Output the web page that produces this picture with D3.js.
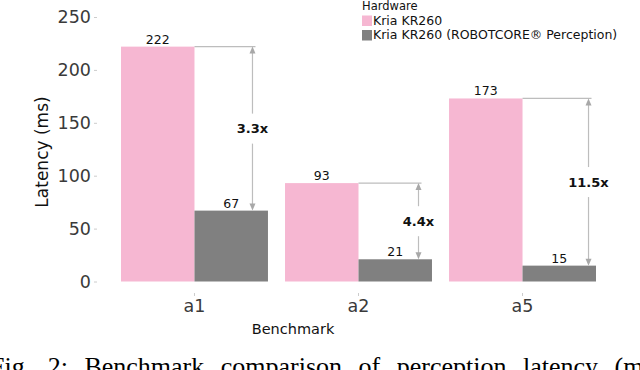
<!DOCTYPE html>
<html>
<head>
<meta charset="utf-8">
<script src="https://cdn.jsdelivr.net/npm/d3@7"></script>
<style>
  body { margin: 0; background: #fff; }
  svg { display: block; font-family: "DejaVu Sans", sans-serif; }
</style>
</head>
<body>
<div id="chart-area"></div>
<script>
// Data
const benchmarks = ["a1", "a2", "a5"];
const hardware = ["Kria KR260", "Kria KR260 (ROBOTCORE\u00AE Perception)"];
const kriaLatency = [222, 93, 173];
const robotcoreLatency = [67, 21, 15];
const speedups = ["3.3x", "4.4x", "11.5x"];
const yTicks = [0, 50, 100, 150, 200, 250];

const colors = ["#f6b7d2", "#808080"];
const width = 640;
const height = 370;

// Build SVG
const svg = d3.select("#chart-area")
  .append("svg")
    .attr("width", width)
    .attr("height", height);

// Scales
const x0 = d3.scaleBand()
  .domain(benchmarks)
  .range([121, 596])
  .paddingInner(0.104)
  .paddingOuter(0);

const x1 = d3.scaleBand()
  .domain([0, 1])
  .range([0, x0.bandwidth()]);

const y = d3.scaleLinear()
  .domain([0, 250])
  .range([281.5, 17]);

// Y axis
const yAxis = svg.append("g")
  .attr("transform", "translate(97,0)")
  .call(d3.axisLeft(y).tickValues(yTicks).tickSize(3).tickPadding(3));
yAxis.select(".domain").remove();
yAxis.selectAll("line").attr("stroke", "#cccccc");
yAxis.selectAll("text")
  .attr("font-size", "17.5px")
  .attr("font-family", "DejaVu Sans")
  .attr("fill", "#3a3a3a");

// X axis
const xAxis = svg.append("g")
  .attr("transform", "translate(0,293)")
  .call(d3.axisBottom(x0).tickSize(3).tickPadding(4));
xAxis.select(".domain").remove();
xAxis.selectAll("line").attr("stroke", "#cccccc");
xAxis.selectAll("text")
  .attr("font-size", "17.5px")
  .attr("font-family", "DejaVu Sans")
  .attr("fill", "#3a3a3a");

// Rows for bars
const rows = benchmarks.map((b, i) => ({
  bench: b,
  values: [kriaLatency[i], robotcoreLatency[i]],
  speedup: speedups[i]
}));

const groups = svg.selectAll(".group")
  .data(rows)
  .enter().append("g")
    .attr("class", "group")
    .attr("transform", d => "translate(" + x0(d.bench) + ",0)");

groups.selectAll("rect")
  .data(d => d.values.map((v, k) => ({ k: k, v: v })))
  .enter().append("rect")
    .attr("x", d => x1(d.k))
    .attr("y", d => y(d.v))
    .attr("width", x1.bandwidth())
    .attr("height", d => y(0) - y(d.v))
    .attr("fill", d => colors[d.k]);

// Value labels
groups.selectAll(".val")
  .data(d => d.values.map((v, k) => ({ k: k, v: v })))
  .enter().append("text")
    .attr("class", "val")
    .attr("x", d => x1(d.k) + x1.bandwidth() / 2)
    .attr("y", d => y(d.v) - 3)
    .attr("text-anchor", "middle")
    .attr("font-size", "12.5px")
    .attr("fill", "#111")
    .text(d => d.v);

// Speedup annotations
const arrowShift = [58, 60, 66];
const lineColor = "#bdbdbd";
const headColor = "#a8a8a8";

rows.forEach((d, i) => {
  const gx = x0(d.bench) + x1(1);
  const ax = gx + arrowShift[i];
  const yTop = y(d.values[0]);
  const yBot = y(d.values[1]);
  const yMid = y((d.values[0] + d.values[1]) / 2);

  svg.append("line")
    .attr("x1", gx).attr("x2", ax + 3)
    .attr("y1", yTop).attr("y2", yTop)
    .attr("stroke", lineColor)
    .attr("stroke-width", 1.2);

  svg.append("line")
    .attr("x1", ax).attr("x2", ax)
    .attr("y1", yTop + 5).attr("y2", yMid - 15)
    .attr("stroke", lineColor)
    .attr("stroke-width", 1.2);

  svg.append("line")
    .attr("x1", ax).attr("x2", ax)
    .attr("y1", yMid + 15).attr("y2", yBot - 5)
    .attr("stroke", lineColor)
    .attr("stroke-width", 1.2);

  svg.append("path")
    .attr("d", "M" + ax + "," + yTop + "L" + (ax - 3) + "," + (yTop + 7) + "L" + (ax + 3) + "," + (yTop + 7) + "Z")
    .attr("fill", headColor);

  svg.append("path")
    .attr("d", "M" + ax + "," + yBot + "L" + (ax - 3) + "," + (yBot - 7) + "L" + (ax + 3) + "," + (yBot - 7) + "Z")
    .attr("fill", headColor);

  svg.append("text")
    .attr("x", ax)
    .attr("y", yMid)
    .attr("dy", "0.36em")
    .attr("text-anchor", "middle")
    .attr("font-size", "13px")
    .attr("font-weight", "bold")
    .attr("fill", "#111")
    .text(d.speedup);
});

// Axis labels
svg.append("text")
  .attr("x", 293)
  .attr("y", 334)
  .attr("text-anchor", "middle")
  .attr("font-size", "14.5px")
  .attr("fill", "#111")
  .text("Benchmark");

svg.append("text")
  .attr("transform", "translate(48,152) rotate(-90)")
  .attr("text-anchor", "middle")
  .attr("font-size", "17px")
  .attr("fill", "#111")
  .text("Latency (ms)");

// Legend
const legend = svg.append("g").attr("transform", "translate(362,0)");
legend.append("text")
  .attr("x", 0).attr("y", 10)
  .attr("font-size", "11.5px")
  .attr("fill", "#111")
  .text("Hardware");

hardware.forEach((h, i) => {
  legend.append("rect")
    .attr("x", 0).attr("y", 15.5 + i * 14.5)
    .attr("width", 10).attr("height", 10.5)
    .attr("fill", colors[i]);
  legend.append("text")
    .attr("x", 11).attr("y", 24.5 + i * 14.5)
    .attr("font-size", "12.5px")
    .attr("fill", "#111")
    .text(h);
});

// Caption (cut off by the frame)
svg.append("text")
  .attr("x", -10)
  .attr("y", 375)
  .attr("font-family", "Liberation Serif, serif")
  .attr("font-size", "26px")
  .attr("word-spacing", "10px")
  .attr("fill", "#000")
  .text("Fig. 2: Benchmark comparison of perception latency (ms)");
</script>
</body>
</html>
